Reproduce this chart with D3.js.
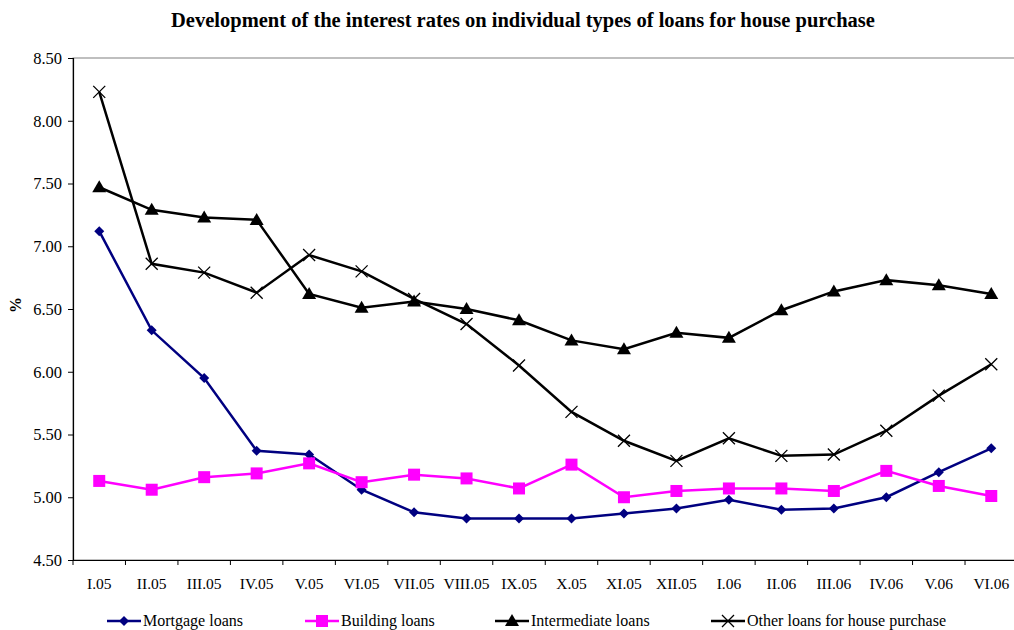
<!DOCTYPE html>
<html><head><meta charset="utf-8">
<script src="https://cdn.jsdelivr.net/npm/d3@7"></script>
<style>body{margin:0;background:#fff}svg{display:block}text{font-family:"Liberation Serif","Times New Roman",serif}</style>
</head><body><svg id="c" width="1014" height="630"></svg>
<script>
const categories = ["I.05","II.05","III.05","IV.05","V.05","VI.05","VII.05","VIII.05","IX.05","X.05","XI.05","XII.05","I.06","II.06","III.06","IV.06","V.06","VI.06"];
const mortgage = [7.12,6.33,5.95,5.37,5.34,5.06,4.88,4.83,4.83,4.83,4.87,4.91,4.98,4.90,4.91,5.00,5.20,5.39];
const building = [5.13,5.06,5.16,5.19,5.27,5.12,5.18,5.15,5.07,5.26,5.00,5.05,5.07,5.07,5.05,5.21,5.09,5.01];
const intermediate = [7.47,7.29,7.23,7.21,6.62,6.51,6.56,6.50,6.41,6.25,6.18,6.31,6.27,6.49,6.64,6.73,6.69,6.62];
const other = [8.23,6.86,6.79,6.63,6.93,6.80,6.58,6.38,6.05,5.68,5.45,5.29,5.47,5.33,5.34,5.53,5.81,6.06];
const yTicks = [4.5,5.0,5.5,6.0,6.5,7.0,7.5,8.0,8.5];
const seriesNames = ["Mortgage loans","Building loans","Intermediate loans","Other loans for house purchase"];

const svg = d3.select("#c");
const pL = 73, pR = 1017.5, pT = 58, pB = 560;
const x = d3.scaleBand().domain(categories).range([pL, pR]);
const y = d3.scaleLinear().domain([4.5, 8.5]).range([pB, pT]);

svg.append("text").attr("x", 523).attr("y", 27).attr("text-anchor","middle")
  .attr("font-weight","bold").attr("font-size", 20.5).text("Development of the interest rates on individual types of loans for house purchase");

// plot border
svg.append("rect").attr("x", pL).attr("y", pT).attr("width", pR-pL).attr("height", pB-pT)
  .attr("fill","none").attr("stroke","#808080").attr("stroke-width",1);

const yAxis = svg.append("g").attr("transform",`translate(${pL},0)`)
  .call(d3.axisLeft(y).tickValues(yTicks).tickFormat(d3.format(".2f")).tickSize(5).tickPadding(6));
const xAxis = svg.append("g").attr("transform",`translate(0,${pB})`)
  .call(d3.axisBottom(x).tickSize(0).tickPadding(18));
[yAxis, xAxis].forEach(a => {
  a.select(".domain").attr("stroke","#000").attr("stroke-width",1.2);
  a.selectAll("text").attr("fill","#000").attr("font-family",'"Liberation Serif",serif');
  a.selectAll("line").attr("stroke","#000");
});
yAxis.selectAll("text").attr("font-size",16.5);
xAxis.selectAll("text").attr("font-size",15.5);
// x tick marks at category boundaries
svg.append("g").selectAll("line").data(categories.concat(["__end"])).join("line")
  .attr("x1",(d,i)=>pL + i*x.step()).attr("x2",(d,i)=>pL + i*x.step())
  .attr("y1",pB).attr("y2",pB+5).attr("stroke","#000");

svg.append("text").attr("transform","translate(21,305) rotate(-90)").attr("text-anchor","middle")
  .attr("font-weight","bold").attr("font-size",16).text("%");

const cx = d => x(d) + x.bandwidth()/2;
const line = d3.line().x((d,i)=>cx(categories[i])).y(d=>y(d));

function marker(g, type, color, px, py) {
  if (type === "diamond") g.append("path").attr("d", d3.symbol(d3.symbolDiamond2, 64)()).attr("transform",`translate(${px},${py})`).attr("fill",color);
  else if (type === "square") g.append("rect").attr("x",px-6).attr("y",py-6).attr("width",12).attr("height",12).attr("fill",color);
  else if (type === "triangle") g.append("path").attr("d",`M${px},${py-7}L${px+7},${py+5}L${px-7},${py+5}Z`).attr("fill",color);
  else if (type === "x") g.append("path").attr("d",`M${px-6},${py-6}L${px+6},${py+6}M${px-6},${py+6}L${px+6},${py-6}`).attr("stroke",color).attr("stroke-width",1.3).attr("fill","none");
}

const series = [
  {name: seriesNames[0], data: mortgage, color: "#000080", m: "diamond"},
  {name: seriesNames[1], data: building, color: "#FF00FF", m: "square"},
  {name: seriesNames[2], data: intermediate, color: "#000000", m: "triangle"},
  {name: seriesNames[3], data: other, color: "#000000", m: "x"}
];
series.forEach(s => {
  svg.append("path").datum(s.data).attr("d", line).attr("fill","none").attr("stroke", s.color).attr("stroke-width", 2.5);
  const g = svg.append("g");
  s.data.forEach((v,i) => marker(g, s.m, s.color, cx(categories[i]), y(v)));
});

// legend
const legX = [107, 305, 495, 711];
series.forEach((s,i) => {
  const g = svg.append("g");
  g.append("line").attr("x1",legX[i]).attr("x2",legX[i]+34).attr("y1",621).attr("y2",621).attr("stroke",s.color).attr("stroke-width",2.5);
  marker(g, s.m, s.color, legX[i]+17, 621);
  g.append("text").attr("x",legX[i]+36).attr("y",626).attr("font-size",16).text(s.name);
});
</script></body></html>
